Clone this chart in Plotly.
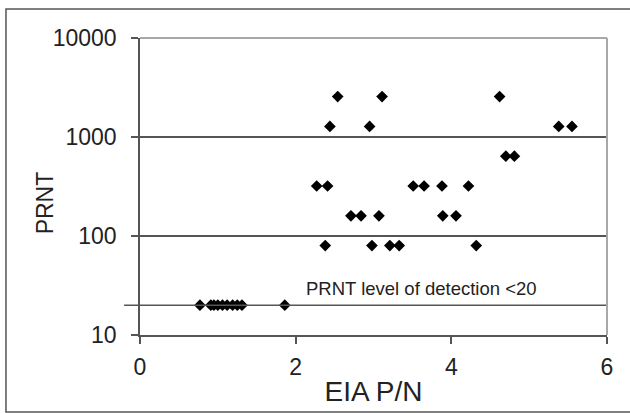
import numpy as np
import plotly.graph_objects as go

# EIA P/N ratio vs PRNT titre
eia_pn = [
    0.77, 0.91, 0.95, 1.00, 1.06, 1.12, 1.19, 1.25, 1.31, 1.86,
    2.38, 2.98, 3.21, 3.33, 4.32,
    2.71, 2.84, 3.07, 3.89, 4.06,
    2.27, 2.41, 3.51, 3.65, 3.88, 4.22,
    4.70, 4.81,
    2.44, 2.95, 5.38, 5.55,
    2.54, 3.11, 4.62,
]
prnt = [
    20, 20, 20, 20, 20, 20, 20, 20, 20, 20,
    80, 80, 80, 80, 80,
    160, 160, 160, 160, 160,
    320, 320, 320, 320, 320, 320,
    640, 640,
    1280, 1280, 1280, 1280,
    2560, 2560, 2560,
]
detection_limit = 20
y_ticks = [10, 100, 1000, 10000]
x_ticks = [0, 2, 4, 6]

y_lo, y_hi = np.log10(y_ticks[0]), np.log10(y_ticks[-1])
limit_paper = (np.log10(detection_limit) - y_lo) / (y_hi - y_lo)

dark = "#555555"
light = "#a8a8a8"
txt = "#222222"
fnt = "Liberation Sans, Arial, sans-serif"

fig = go.Figure()
fig.add_trace(
    go.Scatter(
        x=eia_pn,
        y=prnt,
        mode="markers",
        marker=dict(symbol="diamond", size=9, color="black"),
        showlegend=False,
    )
)

fig.update_layout(
    width=630,
    height=413,
    margin=dict(l=140, r=23, t=38, b=78),
    paper_bgcolor="white",
    plot_bgcolor="white",
    font=dict(family=fnt, size=23, color=txt),
    xaxis=dict(
        range=[x_ticks[0], x_ticks[-1]],
        tickvals=x_ticks,
        showgrid=False,
        zeroline=False,
        showline=True,
        linecolor=dark,
        linewidth=1.5,
        ticks="outside",
        ticklen=7,
        tickcolor=dark,
        tickwidth=1.5,
        ticklabelstandoff=4,
        automargin=False,
        title=dict(text="EIA P/N", standoff=2),
    ),
    yaxis=dict(
        type="log",
        range=[y_lo, y_hi],
        tickvals=y_ticks,
        ticktext=[str(v) for v in y_ticks],
        showgrid=True,
        gridcolor=dark,
        gridwidth=1.5,
        zeroline=False,
        showline=True,
        linecolor=dark,
        linewidth=1.5,
        ticks="outside",
        ticklen=7,
        tickcolor=dark,
        tickwidth=1.5,
        ticklabelstandoff=10,
        automargin=False,
    ),
)

# y title placed a bit below centre, as in the original
fig.add_annotation(
    text="PRNT", textangle=-90, xref="paper", yref="paper",
    x=-0.203, y=0.444, xanchor="center", yanchor="middle",
    showarrow=False, font=dict(size=23),
)

# detection limit line and label
fig.add_shape(
    type="line", xref="paper", yref="paper",
    x0=-0.034, x1=1, y0=limit_paper, y1=limit_paper,
    line=dict(color=dark, width=1.5),
)
fig.add_annotation(
    text="PRNT level of detection <20", x=3.62, y=np.log10(detection_limit),
    xref="x", yref="y", yanchor="bottom", yshift=4, showarrow=False,
    font=dict(size=18.5),
)

# light plot-area border on top and right
fig.add_shape(type="line", xref="paper", yref="paper", x0=0, x1=1, y0=1, y1=1,
              line=dict(color=light, width=2))
fig.add_shape(type="line", xref="paper", yref="paper", x0=1, x1=1, y0=0, y1=1,
              line=dict(color=light, width=2))

# outer chart frame
fig.add_shape(type="rect", xref="paper", yref="paper",
              x0=-0.287, x1=1.06, y0=-0.259, y1=1.098,
              line=dict(color=dark, width=1.5))

fig.write_html(
    "out.html",
    config={"displayModeBar": False},
    post_script="document.body.style.margin='0';",
)
